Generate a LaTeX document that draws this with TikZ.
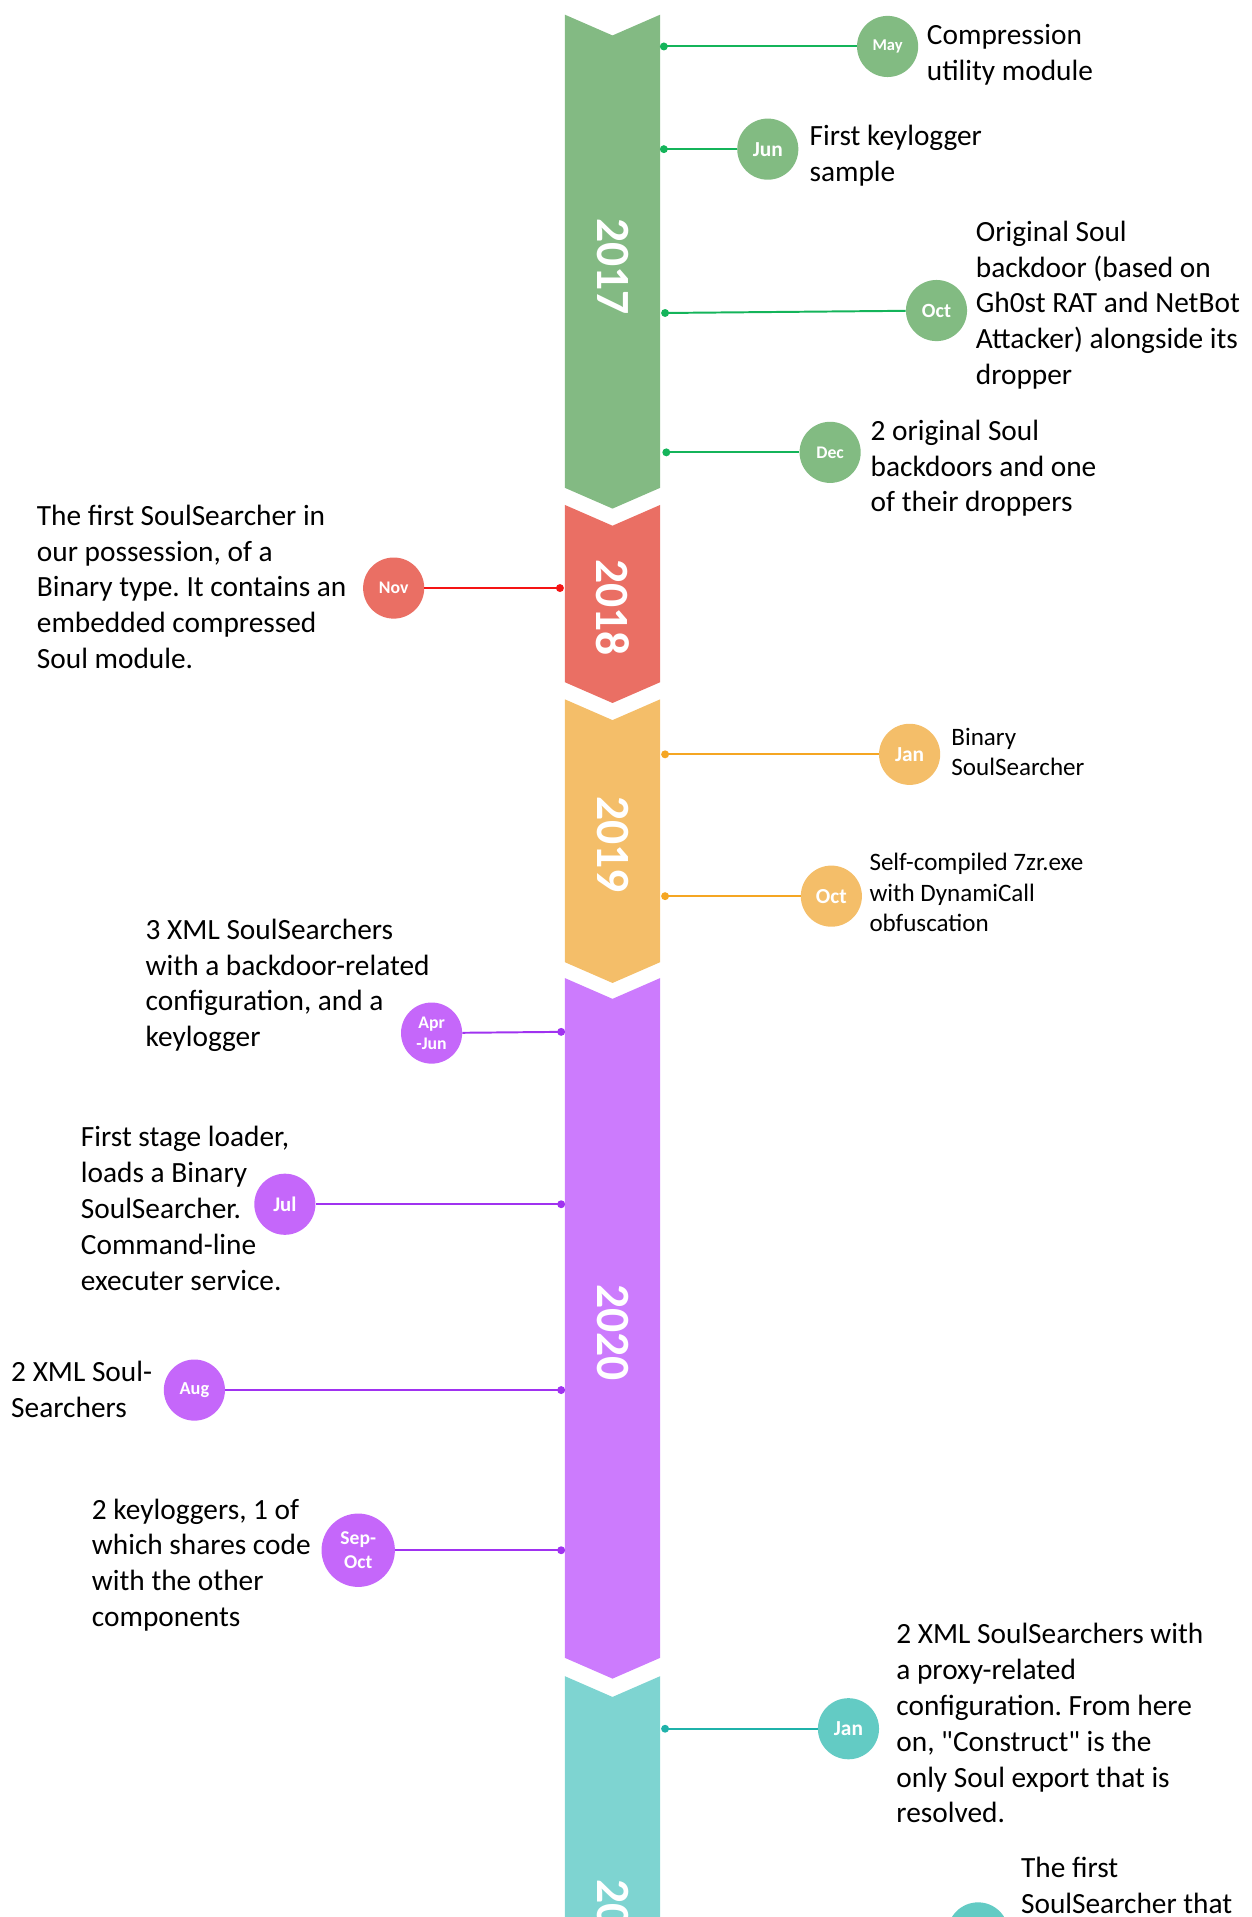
\documentclass[tikz,border=0pt]{standalone}
\usepackage{fontspec}
\setmainfont{Carlito}[Ligatures=TeXOff]
\frenchspacing
\definecolor{gbar}{RGB}{131,186,131}
\definecolor{gcir}{RGB}{130,187,130}
\definecolor{gline}{RGB}{20,180,90}
\definecolor{rbar}{RGB}{234,111,100}
\definecolor{rcir}{RGB}{234,111,100}
\definecolor{rline}{RGB}{245,20,20}
\definecolor{obar}{RGB}{244,190,105}
\definecolor{ocir}{RGB}{244,190,105}
\definecolor{oline}{RGB}{245,166,35}
\definecolor{pbar}{RGB}{204,123,253}
\definecolor{pcir}{RGB}{197,103,250}
\definecolor{pline}{RGB}{160,50,240}
\definecolor{tbar}{RGB}{126,212,209}
\definecolor{tcir}{RGB}{99,203,196}
\definecolor{tline}{RGB}{31,178,170}
\tikzset{
  yr/.style={font=\fontsize{39}{40}\selectfont\bfseries, text=white, rotate=-90, inner sep=0pt},
  mon/.style={circle, minimum size=50pt, inner sep=0pt, text=white, align=center, font=\bfseries\fontsize{15}{15}\selectfont},
  monbig/.style={mon, minimum size=60pt, font=\bfseries\fontsize{16}{20}\selectfont},
  desc/.style={anchor=west, align=left, inner sep=0pt, font=\fontsize{24}{29.3}\selectfont},
  descs/.style={desc, font=\fontsize{20.5}{24.8}\selectfont},
  dotc/.style={circle, inner sep=0pt, minimum size=6.5pt},
  conn/.style={line width=1.6pt}
}
\begin{document}
\begin{tikzpicture}[x=1pt,y=-1pt]
\useasboundingbox (0,0) rectangle (1024,1568);
\begin{scope}
\clip (0,0) rectangle (1024,1568);
% banner segments
\fill[gbar] (462,12) -- (501,29) -- (540,12) -- (540,399) -- (501,416) -- (462,399) -- cycle;
\fill[rbar] (462,413) -- (501,430) -- (540,413) -- (540,558) -- (501,575) -- (462,558) -- cycle;
\fill[obar] (462,572) -- (501,589) -- (540,572) -- (540,787) -- (501,804) -- (462,787) -- cycle;
\fill[pbar] (462,800) -- (501,817) -- (540,800) -- (540,1356) -- (501,1373) -- (462,1356) -- cycle;
\fill[tbar] (462,1371) -- (501,1388) -- (540,1371) -- (540,1620) -- (462,1620) -- cycle;
\node[yr] (y17) at (501,218) {2017};
\node[yr] (y18) at (501,497) {2018};
\node[yr] (y19) at (501,691) {2019};
\node[yr] (y20) at (501,1090) {2020};
\node[yr] (y21) at (501,1577) {2021};

% 2017
\node[dotc, fill=gline] (d1) at (543,38) {};
\node[mon, fill=gcir, font=\bfseries\fontsize{13.5}{13.5}\selectfont] (c1) at (726,38) {May};
\draw[conn, gline] (d1.center) -- (c1);
\node[desc] (t1) at (758,44.5) {Compression\\utility module};

\node[dotc, fill=gline] (d2) at (543,122) {};
\node[mon, fill=gcir, font=\bfseries\fontsize{17.5}{17.5}\selectfont] (c2) at (628,122) {Jun};
\draw[conn, gline] (d2.center) -- (c2);
\node[desc] (t2) at (662,127.5) {First keylogger\\sample};

\node[dotc, fill=gline] (d3) at (544,256) {};
\node[mon, fill=gcir, font=\bfseries\fontsize{16.5}{16.5}\selectfont] (c3) at (766,254) {Oct};
\draw[conn, gline] (d3.center) -- (c3);
\node[desc] (t3) at (798,249.5) {Original Soul\\backdoor (based on\\Gh0st RAT and NetBot\\Attacker) alongside its\\dropper};

\node[dotc, fill=gline] (d4) at (545,370) {};
\node[mon, fill=gcir, font=\bfseries\fontsize{14.5}{14.5}\selectfont] (c4) at (679,370) {Dec};
\draw[conn, gline] (d4.center) -- (c4);
\node[desc] (t4) at (712,383) {2 original Soul\\backdoors and one\\of their droppers};

% 2018
\node[dotc, fill=rline] (d5) at (458,481) {};
\node[mon, fill=rcir, font=\bfseries\fontsize{14.5}{14.5}\selectfont] (c5) at (322,481) {Nov};
\draw[conn, rline] (d5.center) -- (c5);
\node[desc] (t5) at (30,480) {The first SoulSearcher in\\our possession, of a\\Binary type. It contains an\\embedded compressed\\Soul module.};

% 2019
\node[dotc, fill=oline] (d6) at (544,617) {};
\node[mon, fill=ocir, font=\bfseries\fontsize{17.5}{17.5}\selectfont] (c6) at (744,617) {Jan};
\draw[conn, oline] (d6.center) -- (c6);
\node[descs] (t6) at (778,615) {Binary\\SoulSearcher};

\node[dotc, fill=oline] (d7) at (544,733) {};
\node[mon, fill=ocir, font=\bfseries\fontsize{17.5}{17.5}\selectfont] (c7) at (680,733) {Oct};
\draw[conn, oline] (d7.center) -- (c7);
\node[descs] (t7) at (711,730) {Self-compiled 7zr.exe\\with DynamiCall\\obfuscation};

% 2020
\node[dotc, fill=pline] (d8) at (459,844) {};
\node[mon, fill=pcir, font=\bfseries\fontsize{14.5}{17}\selectfont] (c8) at (353,845) {Apr\\-Jun};
\draw[conn, pline] (d8.center) -- (c8);
\node[desc] (t8) at (119,806) {3 XML SoulSearchers\\with a backdoor-related\\configuration, and a\\keylogger};

\node[dotc, fill=pline] (d9) at (459,985) {};
\node[mon, fill=pcir, font=\bfseries\fontsize{17}{17}\selectfont] (c9) at (233,985) {Jul};
\draw[conn, pline] (d9.center) -- (c9);
\node[desc] (t9) at (66,988.5) {First stage loader,\\loads a Binary\\SoulSearcher.\\Command-line\\executer service.};

\node[dotc, fill=pline] (d10) at (459,1137) {};
\node[mon, fill=pcir, font=\bfseries\fontsize{15}{15}\selectfont] (c10) at (159,1137) {Aug};
\draw[conn, pline] (d10.center) -- (c10);
\node[desc] (t10) at (9,1136.5) {2 XML Soul-\\Searchers};

\node[dotc, fill=pline] (d11) at (459,1268) {};
\node[monbig, fill=pcir] (c11) at (293,1268) {Sep-\\Oct};
\draw[conn, pline] (d11.center) -- (c11);
\node[desc] (t11) at (75,1280) {2 keyloggers, 1 of\\which shares code\\with the other\\components};

% 2021
\node[dotc, fill=tline] (d12) at (544,1414) {};
\node[mon, fill=tcir, font=\bfseries\fontsize{17.5}{17.5}\selectfont] (c12) at (694,1414) {Jan};
\draw[conn, tline] (d12.center) -- (c12);
\node[desc] (t12) at (733,1409.5) {2 XML SoulSearchers with\\a proxy-related\\configuration. From here\\on, "Construct" is the\\only Soul export that is\\resolved.};

\node[mon, fill=tcir] (c13) at (800,1581) {};
\node[desc, anchor=north west] (t13) at (835,1519) {The first\\SoulSearcher that};
\end{scope}
\end{tikzpicture}
\end{document}
